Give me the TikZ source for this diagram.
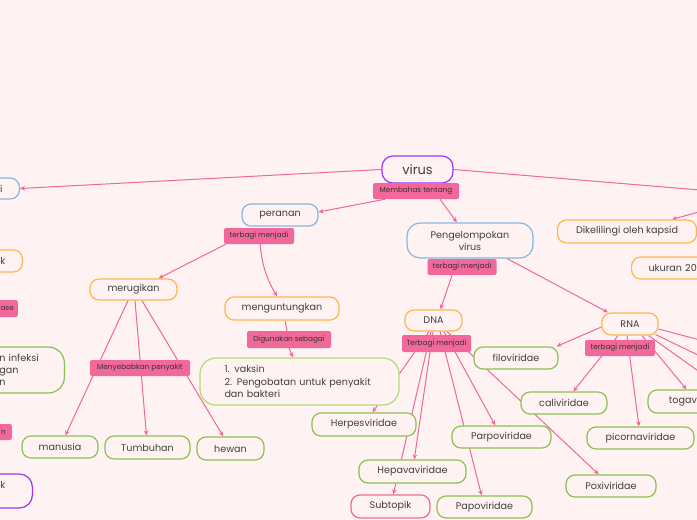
\documentclass[tikz,border=0pt]{standalone}
\usepackage{fontspec}
\setmainfont{Poppins}
\usetikzlibrary{arrows.meta}
\definecolor{bgc}{HTML}{FEF3F2}
\definecolor{txtc}{HTML}{404040}
\definecolor{pinkc}{HTML}{F2689A}
\definecolor{edgec}{HTML}{F0679B}
\definecolor{orangec}{HTML}{FFB54D}
\definecolor{bluec}{HTML}{85B6E3}
\definecolor{greenc}{HTML}{8CC152}
\definecolor{lgreenc}{HTML}{B0DC78}
\definecolor{purplec}{HTML}{A133F5}
\pgfdeclarelayer{bglayer}
\pgfdeclarelayer{edgelayer}
\pgfsetlayers{bglayer,edgelayer,main}
\tikzset{
  box/.style={draw, rounded corners=9pt, line width=1.2pt, fill=bgc, text=txtc,
    font=\fontsize{9.6}{12}\selectfont, inner sep=2pt},
  obox/.style={box, draw=orangec},
  bbox/.style={box, draw=bluec},
  gbox/.style={box, draw=greenc},
  lgbox/.style={box, draw=lgreenc},
  pbox/.style={box, draw=purplec},
  kbox/.style={box, draw=pinkc},
  lbl/.style={fill=pinkc, rounded corners=2pt, text=black!80,
    font=\fontsize{7.3}{8}\selectfont, inner sep=1pt},
  edge/.style={draw=edgec, line width=1pt},
  arr/.style={edge, -{Stealth[length=5pt,width=4.5pt]}},
}
\begin{document}
\begin{tikzpicture}[x=1pt,y=-1pt]
\begin{pgfonlayer}{bglayer}
\fill[bgc] (0,0) rectangle (697,520);
\end{pgfonlayer}
\useasboundingbox (0,0) rectangle (697,520);

% main nodes
\node[pbox, minimum width=71pt, minimum height=27pt, rounded corners=11pt, font=\fontsize{13}{14}\selectfont] (virus) at (417.5,169.5) {virus};
\node[lbl, minimum width=86pt, minimum height=16pt] (memb) at (416,191) {Membahas tentang};
\node[bbox, minimum width=76pt, minimum height=22pt] (peranan) at (280,215) {peranan};
\node[lbl, minimum width=70pt, minimum height=16pt] (terb1) at (259,236) {terbagi menjadi};
\node[bbox, minimum width=126pt, minimum height=35pt, align=center, rounded corners=13pt] (pengel) at (470,240.5) {Pengelompokan\\virus};
\node[lbl, minimum width=69pt, minimum height=16pt] (terb2) at (462,267) {terbagi menjadi};
\node[obox, minimum width=87pt, minimum height=21pt] (meru) at (133.5,289.5) {merugikan};
\node[obox, minimum width=114pt, minimum height=23pt] (mengun) at (282,308.5) {menguntungkan};
\node[lbl, minimum width=84pt, minimum height=17pt] (digun) at (289,339.5) {Digunakan sebagai};
\node[lgbox, text width=150pt, inner xsep=24.5pt, minimum height=47pt, align=left, rounded corners=16pt, font=\fontsize{9.6}{12.8}\selectfont] (vaksin) at (299.5,381.5) {1. vaksin\\2. Pengobatan untuk penyakit\\dan bakteri};
\node[lbl, minimum width=100pt, minimum height=16pt] (menyeb) at (140,368) {Menyebabkan penyakit};
\node[gbox, minimum width=76pt, minimum height=22pt] (manusia) at (60,447) {manusia};
\node[gbox, minimum width=85pt, minimum height=23pt] (tumbuhan) at (147.5,447.5) {Tumbuhan};
\node[gbox, minimum width=67pt, minimum height=23pt] (hewan) at (230.5,448.5) {hewan};
\node[obox, minimum width=57pt, minimum height=21pt] (dna) at (433.5,320.5) {DNA};
\node[lbl, minimum width=69pt, minimum height=17pt] (terb3) at (436.5,343.5) {Terbagi menjadi};
\node[obox, minimum width=56pt, minimum height=22pt] (rna) at (630,324) {RNA};
\node[lbl, minimum width=70pt, minimum height=16pt] (terb4) at (620,348) {terbagi menjadi};
\node[gbox, minimum width=84pt, minimum height=22pt] (filo) at (516,358) {filoviridae};
\node[gbox, minimum width=86pt, minimum height=22pt] (cali) at (564,403) {caliviridae};
\node[gbox, minimum width=107pt, minimum height=22pt] (picorna) at (640.5,438) {picornaviridae};
\node[gbox, minimum width=97pt, minimum height=23pt] (toga) at (696.5,401.5) {togaviridae};
\node[gbox, minimum width=104pt, minimum height=23pt] (herpes) at (364,424.5) {Herpesviridae};
\node[gbox, minimum width=99pt, minimum height=22pt] (parpo) at (501.5,437) {Parpoviridae};
\node[gbox, minimum width=107pt, minimum height=23pt] (hepava) at (412.5,471.5) {Hepavaviridae};
\node[kbox, minimum width=79pt, minimum height=23pt] (subtopik) at (390.5,506.5) {Subtopik};
\node[gbox, minimum width=95pt, minimum height=22pt] (papo) at (484.5,507) {Papoviridae};
\node[gbox, minimum width=90pt, minimum height=22pt] (poxi) at (611,486) {Poxiviridae};
\node[obox, minimum width=139pt, minimum height=23pt] (dikel) at (627,231.5) {Dikelilingi oleh kapsid};
\node[obox, anchor=west, text width=80pt, inner xsep=17pt, align=left, minimum height=22pt] (ukuran) at (631,268) {ukuran 20};

% nodes cut by the left edge
\node[bbox, anchor=east, text width=40pt, inner xsep=17pt, align=right, minimum height=21pt] (ki1) at (20,188.5) {i};
\node[obox, anchor=east, text width=40pt, inner xsep=17pt, align=right, minimum height=22pt] (ki2) at (23,261) {k};
\node[lbl, anchor=east, text width=40pt, inner xsep=4pt, align=right, minimum height=17pt] (ki3) at (18,308.5) {ase};
\node[gbox, anchor=east, text width=48pt, inner xsep=17pt, align=left, minimum height=46pt, rounded corners=16pt, font=\fontsize{9.6}{12}\selectfont] (ki4) at (65,370) {n infeksi\\gan\\n};
\node[lbl, anchor=east, text width=40pt, inner xsep=6pt, align=right, minimum height=16pt] (ki5) at (12,432) {n};
\node[pbox, anchor=east, text width=40pt, inner xsep=27pt, align=right, minimum height=34pt, rounded corners=13pt] (ki6) at (33,491) {k\\\mbox{}};

% points beyond the right edge
\coordinate (kanan) at (760,195);
\coordinate (r1) at (760,356);
\coordinate (r2) at (760,385);
\coordinate (r3) at (760,415);

\begin{pgfonlayer}{edgelayer}
\draw[arr] (virus.west) -- (ki1.east);
\draw[edge] (virus.east) -- (kanan);
\draw[arr] (kanan) -- ([xshift=45pt]dikel.north);
\draw[arr] ([xshift=-31pt]memb.south) -- ([yshift=3pt]peranan.east);
\draw[arr] ([xshift=24pt]memb.south) -- (pengel);
\draw[arr] ([xshift=2pt]terb1.south west) -- ([xshift=25pt]meru.north);
\draw[arr] ([xshift=1pt]terb1.south) to[bend right=12] ([xshift=-5pt]mengun.north);
\draw[edge] ([xshift=3pt]mengun.south) -- ([xshift=-2pt]digun.north);
\draw[arr] (digun.south) -- ([xshift=-6.5pt]vaksin.north);
\draw[arr] ([xshift=-5.5pt]meru.south) -- (manusia);
\draw[arr] ([xshift=1.5pt]meru.south) -- (tumbuhan);
\draw[arr] ([xshift=8.5pt]meru.south) -- (hewan);
\draw[arr] ([xshift=-10pt]terb2.south) -- ([xshift=7pt]dna.north);
\draw[arr] ([xshift=37pt]pengel.south) -- ([xshift=-22pt]rna.north);
\draw[arr] ([xshift=-4.5pt]dna.south) -- (herpes);
\draw[arr] ([xshift=-2.5pt]dna.south) -- (subtopik);
\draw[arr] ([xshift=-0.5pt]dna.south) -- (hepava);
\draw[arr] ([xshift=6.5pt]dna.south) -- (papo);
\draw[arr] ([xshift=10.5pt]dna.south) -- (parpo);
\draw[arr] ([xshift=13.5pt]dna.south) -- (poxi);
\draw[arr] ([yshift=-3pt]rna.west) -- ([xshift=-2pt]filo.north east);
\draw[arr] ([xshift=-12pt]rna.south) -- (cali);
\draw[arr] ([xshift=-3pt]rna.south) -- (picorna);
\draw[arr] ([xshift=12pt]rna.south) -- (toga);
\draw[edge] ([yshift=-5pt]rna.east) -- (r1);
\draw[edge] ([xshift=-3pt,yshift=1pt]rna.south east) -- (r2);
\draw[edge] ([xshift=-10pt]rna.south east) -- (r3);
\end{pgfonlayer}
\end{tikzpicture}
\end{document}
